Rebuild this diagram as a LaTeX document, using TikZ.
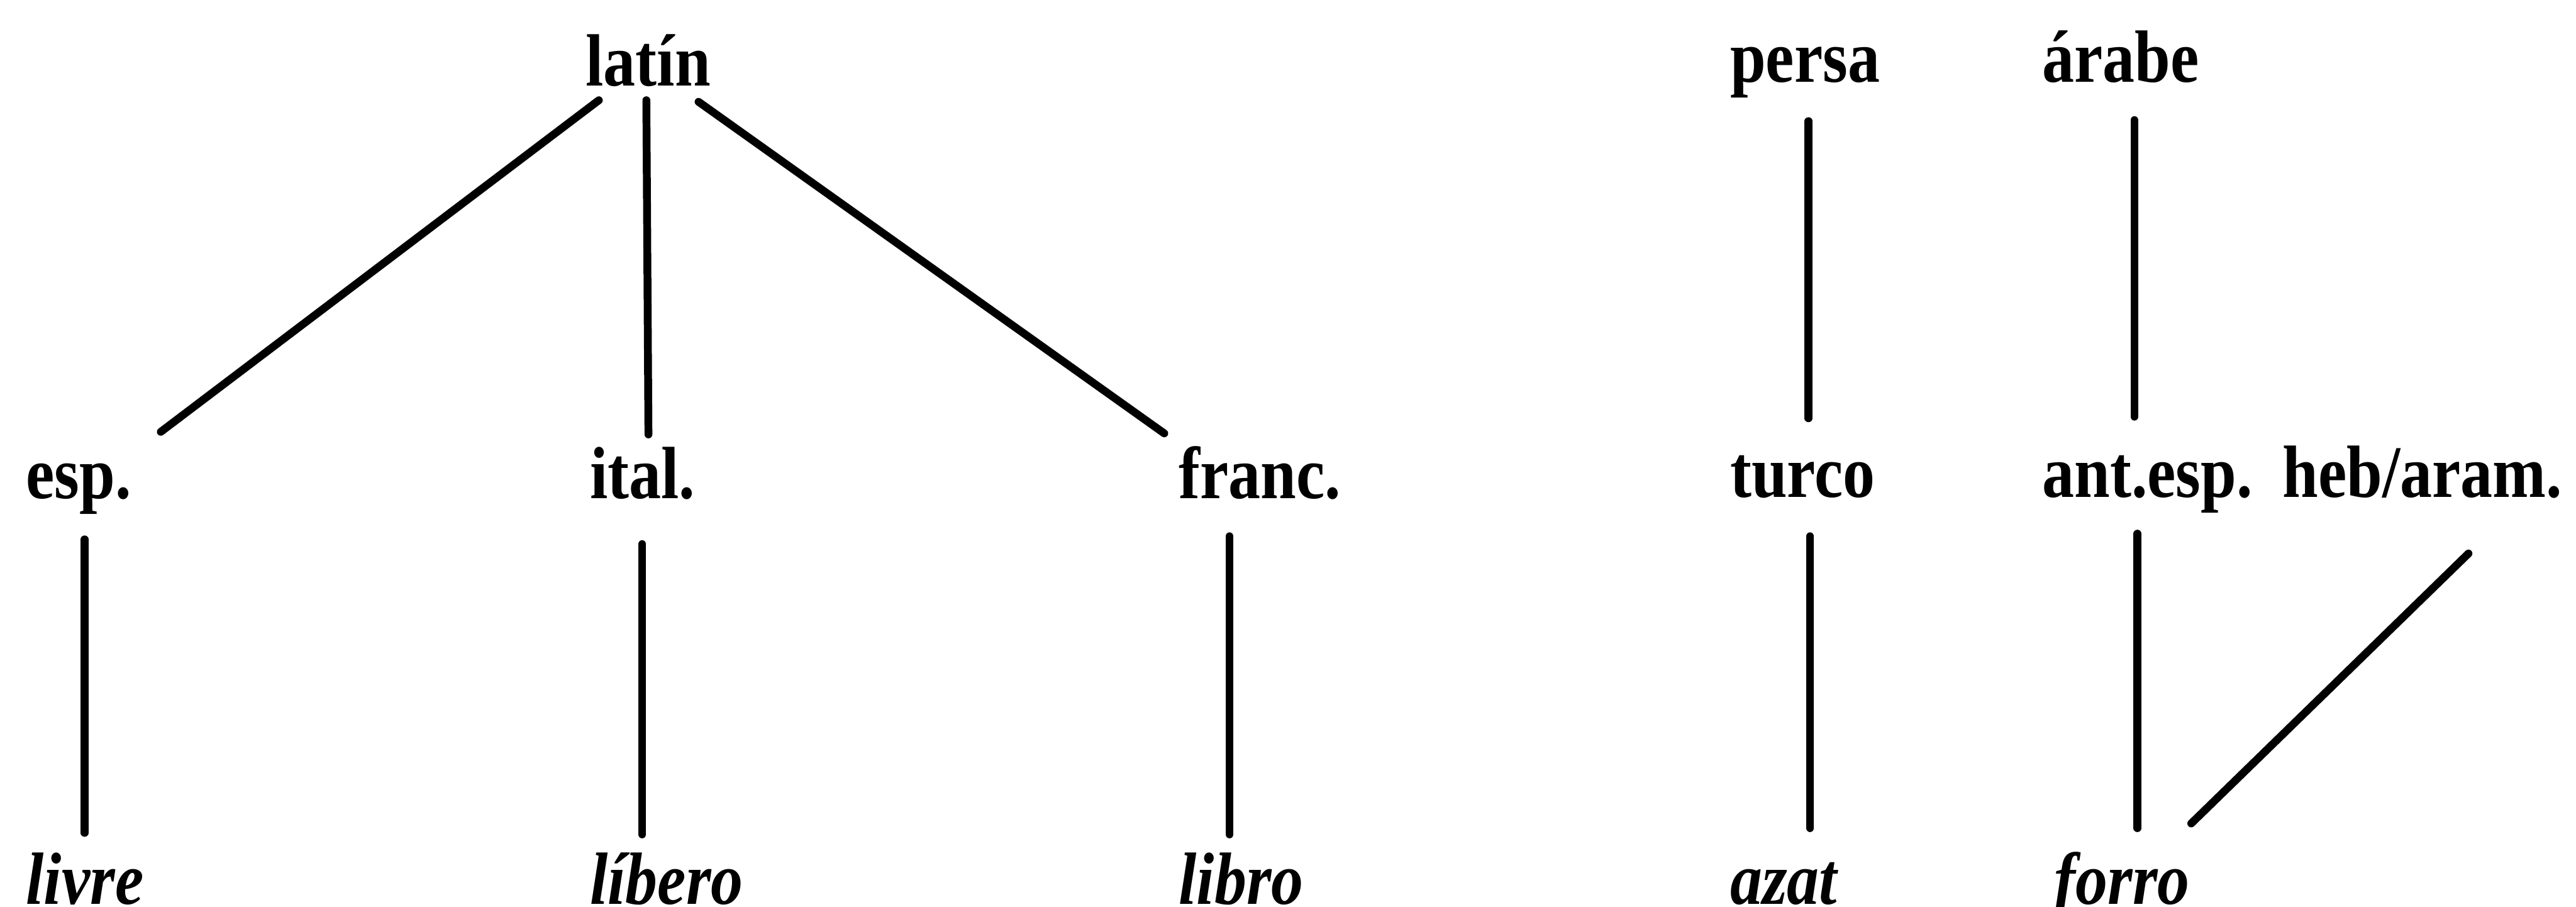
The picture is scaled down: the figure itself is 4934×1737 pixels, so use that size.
\documentclass[tikz,border=0pt]{standalone}
\usepackage{fontspec}
\usepackage{graphicx}
\setmainfont{Liberation Serif}
\newcommand{\tallt}[1]{\scalebox{0.97}[1.12]{#1}}
\begin{document}
\begin{tikzpicture}[x=0.01cm,y=-0.01cm,
  lbl/.style={anchor=base west,inner sep=0pt,outer sep=0pt,font=\fontsize{36}{42}\selectfont\bfseries},
  wrd/.style={lbl,font=\fontsize{36}{42}\selectfont\bfseries\itshape},
  link/.style={line width=0.15cm,line cap=round}]
\useasboundingbox (0,0) rectangle (4934,1737);
% nodes
\node[lbl] (latin)  at (1122,164) {\tallt{latín}};
\node[lbl] (esp)    at (50,955)   {\tallt{esp.}};
\node[lbl] (ital)   at (1130,955) {\tallt{ital.}};
\node[lbl] (franc)  at (2258,955) {\tallt{franc.}};
\node[wrd] (livre)  at (50,1732)  {\tallt{livre}};
\node[wrd] (libero) at (1130,1732){\tallt{líbero}};
\node[wrd] (libro)  at (2258,1732){\tallt{libro}};
\node[lbl] (persa)  at (3314,157) {\tallt{persa}};
\node[lbl] (arabe)  at (3912,157) {\tallt{árabe}};
\node[lbl] (turco)  at (3314,952) {\tallt{turco}};
\node[lbl] (antesp) at (3912,952) {\tallt{ant.esp.}};
\node[lbl] (heb)    at (4372,952) {\tallt{heb/aram.}};
\node[wrd] (azat)   at (3314,1732){\tallt{azat}};
\node[wrd] (forro)  at (3935,1732){\tallt{forro}};
% connector ends
\coordinate (la1) at (1147,192); \coordinate (es1) at (308,827);
\coordinate (la2) at (1238,192); \coordinate (it1) at (1242,832);
\coordinate (la3) at (1338,195); \coordinate (fr1) at (2230,830);
\coordinate (es2) at (162,1033);  \coordinate (lv1) at (162,1595);
\coordinate (it2) at (1230,1042); \coordinate (lb1) at (1230,1598);
\coordinate (fr2) at (2355,1027); \coordinate (lo1) at (2355,1598);
\coordinate (pe1) at (3464,232);  \coordinate (tu1) at (3464,801);
\coordinate (ar1) at (4088,230);  \coordinate (an1) at (4088,798);
\coordinate (tu2) at (3467,1027); \coordinate (az1) at (3467,1586);
\coordinate (an2) at (4094,1022); \coordinate (fo1) at (4094,1586);
\coordinate (hb1) at (4728,1060); \coordinate (fo2) at (4197,1577);
% connectors
\draw[link] (la1) -- (es1);
\draw[link] (la2) -- (it1);
\draw[link] (la3) -- (fr1);
\draw[link] (es2) -- (lv1);
\draw[link] (it2) -- (lb1);
\draw[link] (fr2) -- (lo1);
\draw[link] (pe1) -- (tu1);
\draw[link] (ar1) -- (an1);
\draw[link] (tu2) -- (az1);
\draw[link] (an2) -- (fo1);
\draw[link] (hb1) -- (fo2);
\end{tikzpicture}
\end{document}
